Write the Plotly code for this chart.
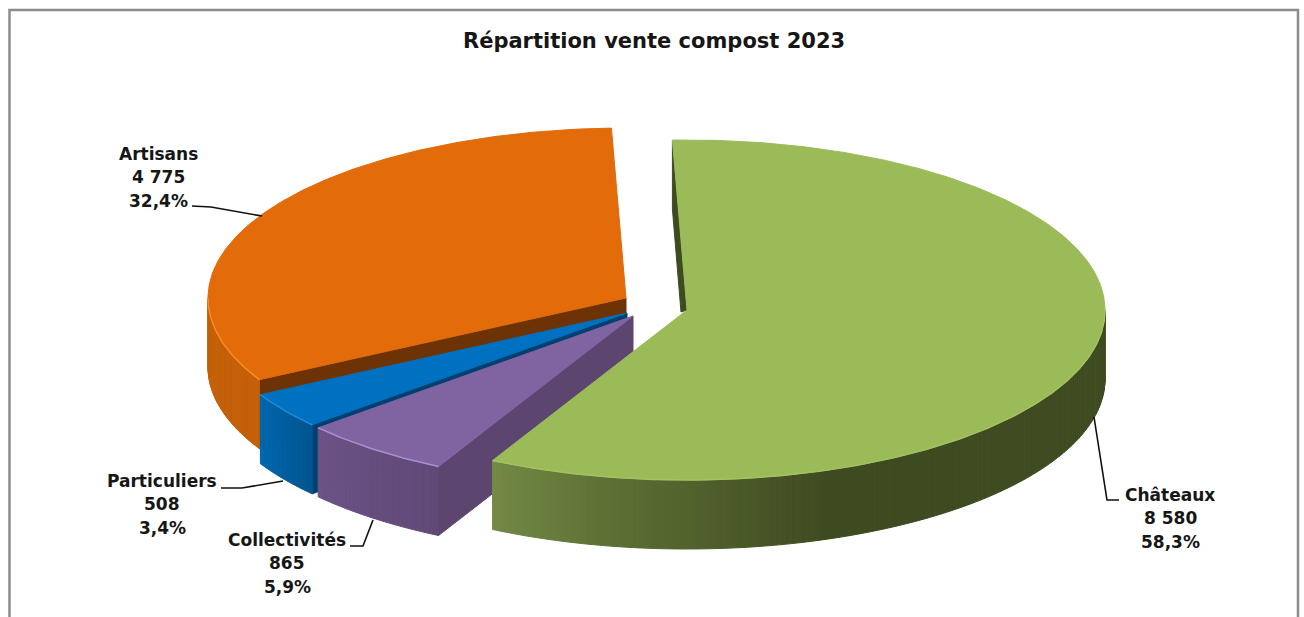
import math
import plotly.graph_objects as go

#---DATA---
title_text = "Répartition vente compost 2023"
categories = ["Châteaux", "Collectivités", "Particuliers", "Artisans"]
values = [8580, 865, 508, 4775]

#---STYLE / LAYOUT CONSTANTS---
W, H = 1304, 617
RX, RY = 418, 170       # radii of the tilted pie
WALL = 69               # depth of the side wall
START_ANGLE = -2.0      # degrees clockwise from 12 o'clock
FONT = "DejaVu Sans"
TEXT_COLOR = "#161616"

# exploded centre of each slice, in picture units
apex = {"Châteaux": (687, 310), "Collectivités": (633, 316),
        "Particuliers": (627, 313), "Artisans": (626, 298)}
top_color = {"Châteaux": "#9BBB59", "Collectivités": "#8064A2",
             "Particuliers": "#0070C0", "Artisans": "#E26B0A"}
rim_color = {"Châteaux": "#A3C262", "Collectivités": "#A98FD0",
             "Particuliers": "#1A8CDC", "Artisans": "#FF8A22"}
cut_color = {"Châteaux": "#3E4B21", "Collectivités": "#5C4670",
             "Particuliers": "#003F70", "Artisans": "#6E3304"}
# wall gradient stops : (x position, colour)
wall_stops = {
    "Châteaux": [(491, "#748A45"), (620, "#5B6E33"), (830, "#3E4B21"), (1105, "#3F4C22")],
    "Collectivités": [(318, "#6B5386"), (438, "#5F4977")],
    "Particuliers": [(259, "#0067AF"), (312, "#005590")],
    "Artisans": [(208, "#C55F0A"), (258, "#C55F0A")],
}
# label anchor (centre x, first line y) and leader line
label_pos = {"Châteaux": (1170, 495), "Collectivités": (287, 540),
             "Particuliers": (162, 481), "Artisans": (158, 154)}
leaders = {
    "Châteaux": "M1094,417 L1107,500 L1119,500",
    "Collectivités": "M350,546 L363,546 L373,520",
    "Particuliers": "M221,488 L242,488 L283,481",
    "Artisans": "M192,206 L211,207 L262,216",
}
LINE_GAP = 23.3


def rim_point(cx, cy, deg):
    a = math.radians(deg)
    return cx + RX * math.sin(a), cy - RY * math.cos(a)


def arc(cx, cy, a0, a1, step=0.5):
    n = max(2, int(abs(a1 - a0) / step))
    return [rim_point(cx, cy, a0 + (a1 - a0) * i / n) for i in range(n + 1)]


def mix(stops, x):
    if x <= stops[0][0]:
        return stops[0][1]
    for (x0, c0), (x1, c1) in zip(stops, stops[1:]):
        if x <= x1:
            t = (x - x0) / (x1 - x0)
            rgb = [round(int(c0[i:i + 2], 16) * (1 - t) + int(c1[i:i + 2], 16) * t) for i in (1, 3, 5)]
            return "rgb(%d,%d,%d)" % tuple(rgb)
    return stops[-1][1]


def poly(points, color, line=None):
    xs = [p[0] for p in points] + [points[0][0]]
    ys = [p[1] for p in points] + [points[0][1]]
    return go.Scatter(x=xs, y=ys, mode="lines", fill="toself", fillcolor=color,
                      line=dict(color=line or color, width=1),
                      hoverinfo="skip", showlegend=False)


def french_number(v):
    return f"{v:,}".replace(",", " ")


#---ANGLES FROM THE VALUES---
total = sum(values)
spans = {}
angle = START_ANGLE
for cat, val in zip(categories, values):
    spans[cat] = (angle, angle + val / total * 360)
    angle = spans[cat][1]

#---PLOT---
fig = go.Figure()

# painter's order: back slice first
for cat in ["Artisans", "Particuliers", "Collectivités", "Châteaux"]:
    cx, cy = apex[cat]
    a0, a1 = spans[cat]

    # cut face visible on the near side
    if cat != "Châteaux":
        far = rim_point(cx, cy, a0)
        fig.add_trace(poly([(cx, cy), far, (far[0], far[1] + WALL), (cx, cy + WALL)], cut_color[cat]))

    # outer wall, only the part of the rim facing the viewer (90 to 270 degrees)
    w0, w1 = max(a0, 90), min(a1, 270)
    if w1 > w0:
        n = max(1, int((w1 - w0) / 0.75))
        for i in range(n):
            b0 = w0 + (w1 - w0) * i / n
            b1 = w0 + (w1 - w0) * (i + 1) / n
            strip = arc(cx, cy, b0, b1, 0.25)
            pts = strip + [(x, y + WALL) for x, y in reversed(strip)]
            fig.add_trace(poly(pts, mix(wall_stops[cat], strip[0][0])))

    # left cut face seen as a sliver on the big slice
    if cat == "Châteaux":
        top = rim_point(cx, cy, a0)
        fig.add_trace(poly([top, (cx, cy), (cx - 6, cy + 2), (top[0], top[1] + WALL)], cut_color[cat]))

    # top surface
    pts = [(cx, cy)] + arc(cx, cy, a0, a1)
    fig.add_trace(poly(pts, top_color[cat]))

    # bright rim on the near edge
    if w1 > w0:
        rim = arc(cx, cy, w0, w1)
        fig.add_trace(go.Scatter(x=[p[0] for p in rim], y=[p[1] for p in rim], mode="lines",
                                 line=dict(color=rim_color[cat], width=1.5),
                                 hoverinfo="skip", showlegend=False))

#---LABELS---
annotations = []
for cat, val in zip(categories, values):
    pct = f"{val / total * 100:.1f}%".replace(".", ",")
    lx, ly = label_pos[cat]
    for i, line in enumerate([cat, french_number(val), pct]):
        annotations.append(dict(x=lx, y=ly + i * LINE_GAP, xref="x", yref="y", text=f"<b>{line}</b>",
                                showarrow=False, xanchor="center", yanchor="middle",
                                font=dict(family=FONT, size=17, color=TEXT_COLOR)))
annotations.append(dict(x=654, y=41, xref="x", yref="y", text=f"<b>{title_text}</b>",
                        showarrow=False, xanchor="center", yanchor="middle",
                        font=dict(family=FONT, size=21, color=TEXT_COLOR)))

shapes = [dict(type="path", path=p, xref="x", yref="y", line=dict(color="#111111", width=1.6))
          for p in leaders.values()]
# chart frame, its bottom edge is cut off by the picture
shapes.append(dict(type="path", path="M9.5,640 L9.5,10 L1298,10 L1298,640", xref="x", yref="y",
                   line=dict(color="#8C8C8C", width=2.5)))

#---STYLE---
fig.update_layout(
    width=W, height=H, autosize=False,
    margin=dict(l=0, r=0, t=0, b=0, pad=0),
    paper_bgcolor="white", plot_bgcolor="white",
    showlegend=False,
    annotations=annotations, shapes=shapes,
    xaxis=dict(range=[0, W], visible=False, fixedrange=True),
    yaxis=dict(range=[H, 0], visible=False, fixedrange=True),
)

fig.write_html("out.html", config={"displayModeBar": False},
               post_script="document.body.style.margin='0';document.body.style.overflow='hidden';")
